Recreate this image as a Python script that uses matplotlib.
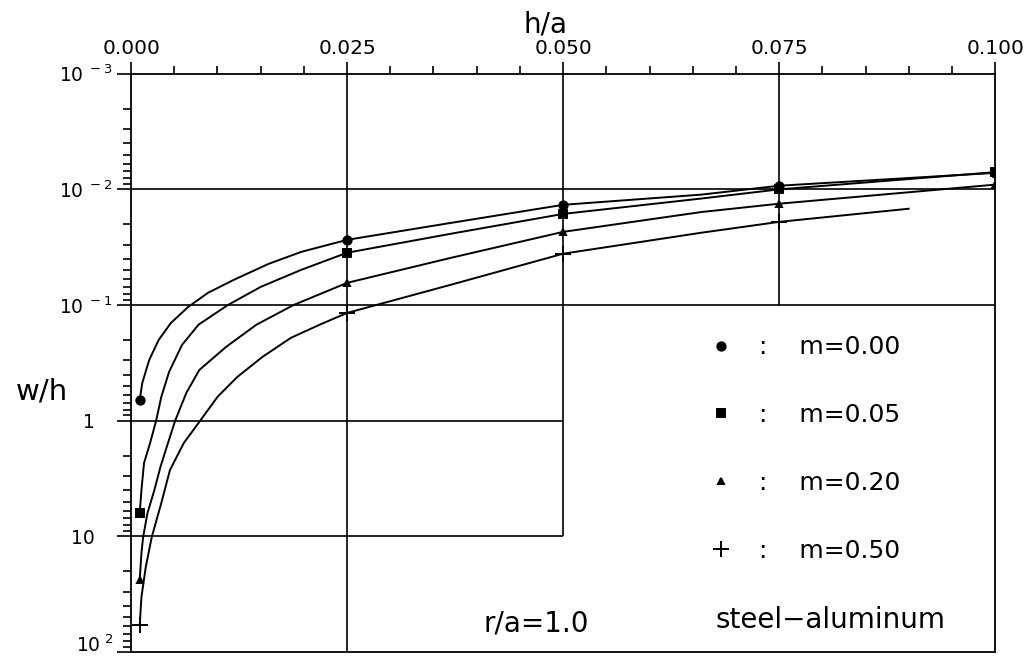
import numpy as np
import matplotlib.pyplot as plt
from matplotlib.lines import Line2D

plt.rcParams['font.family'] = 'DejaVu Sans'
plt.rcParams['mathtext.fontset'] = 'custom'
plt.rcParams['mathtext.rm'] = 'DejaVu Sans'

# values (h/a, w/h)
ha_m000 = [0.001, 0.0013, 0.0021, 0.0032, 0.0046, 0.0066, 0.0089, 0.0119, 0.0159, 0.0197,
           0.025, 0.037, 0.050, 0.066, 0.075, 0.100]
wh_m000 = [0.66, 0.471, 0.298, 0.200, 0.143, 0.104, 0.0784, 0.0605, 0.0441, 0.0347,
           0.0273, 0.0195, 0.0136, 0.0111, 0.0093, 0.0072]

ha_m005 = [0.001, 0.0012, 0.0015, 0.0022, 0.0029, 0.0035, 0.0044, 0.0059, 0.0078, 0.0112,
           0.0150, 0.0197, 0.025, 0.037, 0.050, 0.066, 0.075, 0.100]
wh_m005 = [6.28, 3.97, 2.32, 1.56, 1.0, 0.622, 0.378, 0.221, 0.148, 0.100,
           0.0697, 0.0496, 0.0353, 0.0242, 0.0163, 0.0120, 0.0100, 0.0071]

ha_m020 = [0.001, 0.0012, 0.0014, 0.0019, 0.0027, 0.0034, 0.0042, 0.0051, 0.0064, 0.0079,
           0.0110, 0.0145, 0.0188, 0.025, 0.037, 0.050, 0.066, 0.075, 0.100]
wh_m020 = [23.8, 13.9, 10.1, 6.28, 3.97, 2.51, 1.62, 1.0, 0.574, 0.364,
           0.230, 0.148, 0.100, 0.0643, 0.0391, 0.0233, 0.0157, 0.0133, 0.0091]

ha_m050 = [0.001, 0.0012, 0.0017, 0.0024, 0.0035, 0.0045, 0.0061, 0.0080, 0.0100, 0.0123,
           0.0152, 0.0185, 0.0220, 0.025, 0.037, 0.050, 0.066, 0.075, 0.090]
wh_m050 = [58.3, 33.4, 18.4, 10.1, 5.14, 2.67, 1.56, 1.0, 0.622, 0.418,
           0.281, 0.192, 0.146, 0.117, 0.0668, 0.036, 0.0237, 0.0191, 0.0147]

labels = ['m=0.00', 'm=0.05', 'm=0.20', 'm=0.50']
markers = ['o', 's', '^', '+']
msizes = [6, 6, 4, 11]
marked_ha = [0.001, 0.025, 0.050, 0.075, 0.100]

xticks = [0.0, 0.025, 0.05, 0.075, 0.1]
xticklabels = ['0.000', '0.025', '0.050', '0.075', '0.100']
yticks = [1e-3, 1e-2, 1e-1, 1, 10, 100]
yticklabels = [r'$\mathregular{10^{\ -3}}$', r'$\mathregular{10^{\ -2}}$', r'$\mathregular{10^{\ -1}}$',
               '1   ', '10   ', r'$\mathregular{10^{\ 2}}$']

fig = plt.figure(figsize=(10.24, 6.64), dpi=100)
ax = fig.add_axes([0.128, 0.018, 0.8438, 0.871])

series = [(ha_m000, wh_m000), (ha_m005, wh_m005), (ha_m020, wh_m020), (ha_m050, wh_m050)]
for (ha, wh), mk, ms in zip(series, markers, msizes):
    idx = [i for i, v in enumerate(ha) if v in marked_ha]
    ax.plot(ha, wh, color='black', lw=1.4, marker=mk, ms=ms, mew=1.4, markevery=idx)

ax.set_yscale('log')
ax.set_xlim(0, 0.1)
ax.set_ylim(1e2, 1e-3)

# partial grid lines as in the original
ax.hlines([1e-2, 1e-1], 0, 0.1, color='black', lw=1.2)
ax.hlines([1, 10], 0, 0.05, color='black', lw=1.2)
ax.vlines(0.025, 1e-3, 1e2, color='black', lw=1.2)
ax.vlines(0.05, 1e-3, 10, color='black', lw=1.2)
ax.vlines(0.075, 1e-3, 1e-1, color='black', lw=1.2)

ax.xaxis.tick_top()
ax.set_xticks(xticks)
ax.set_xticklabels(xticklabels, fontsize=14.5)
ax.set_xticks(np.arange(0, 0.1001, 0.005), minor=True)
ax.set_yticks(yticks)
ax.set_yticklabels(yticklabels, fontsize=13.5)
ax.get_yticklabels()[-1].set_va('baseline')
ax.tick_params(axis='x', which='major', length=9, width=1.2, pad=2)
ax.tick_params(axis='x', which='minor', length=6, width=1.2)
ax.tick_params(axis='y', which='major', length=10, width=1.2, pad=3)
ax.tick_params(axis='y', which='minor', length=6, width=1.2)
for s in ax.spines.values():
    s.set_linewidth(1.3)

ax.xaxis.set_label_position('top')
ax.set_xlabel('h/a', fontsize=20, va='center')
ax.xaxis.set_label_coords(0.48, 1.085)
ax.set_ylabel('w/h', fontsize=21, rotation=0, va='center', ha='center')
ax.yaxis.set_label_coords(-0.103, 0.45)

handles = [Line2D([], [], ls='none', color='black', marker=mk, ms=ms, mew=1.4)
           for mk, ms in zip(markers, msizes)]
ax.legend(handles, [':    ' + l for l in labels], loc='upper left', bbox_to_anchor=(0.654, 0.569),
          frameon=False, fontsize=18, handlelength=1.0, handletextpad=1.0, labelspacing=1.75,
          borderpad=0)

ax.text(0.469, 0.05, 'r/a=1.0', transform=ax.transAxes, fontsize=20, ha='center', va='center')
ax.text(0.81, 0.055, 'steel\u2212aluminum', transform=ax.transAxes, fontsize=20, ha='center', va='center')

fig.savefig('out.png', dpi=100)
